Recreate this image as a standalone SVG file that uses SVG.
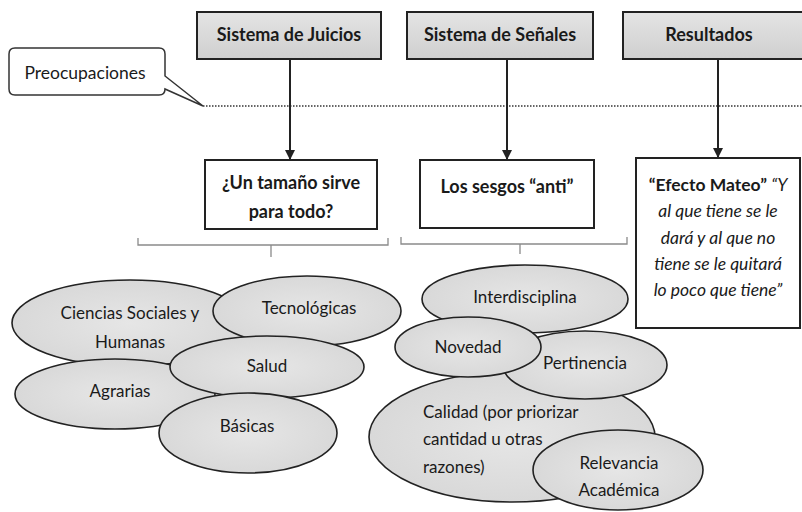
<svg xmlns="http://www.w3.org/2000/svg" width="802" height="512" viewBox="0 0 802 512">
<defs>
<linearGradient id="hdr" x1="0" y1="0" x2="0" y2="1">
<stop offset="0" stop-color="#e4e4e4"/>
<stop offset="1" stop-color="#cfcfcf"/>
</linearGradient>
<radialGradient id="ell" cx="0.5" cy="0.5" r="0.6">
<stop offset="0" stop-color="#e6e6e6"/>
<stop offset="1" stop-color="#d6d6d6"/>
</radialGradient>
<marker id="arr" viewBox="0 0 10 10" refX="9" refY="5" markerWidth="5" markerHeight="5" orient="auto" markerUnits="strokeWidth">
<path d="M0,0 L10,5 L0,10 Z" fill="#222"/>
</marker>
<style>
.hdr{fill:url(#hdr);stroke:#222;stroke-width:2}
.box{fill:#fff;stroke:#222;stroke-width:2}
.ell{fill:url(#ell);stroke:#222;stroke-width:1.6}
.t{font-family:Lato,"Liberation Sans",sans-serif;fill:#1a1a1a;text-anchor:middle}
.b{font-weight:bold;font-size:18px}
.r{font-size:17px}
.i{font-style:italic;font-size:17.5px}
.arrow{stroke:#222;stroke-width:2;fill:none;marker-end:url(#arr)}
.br{stroke:#8a8a8a;stroke-width:1.3;fill:none}
</style>
</defs>
<rect width="802" height="512" fill="#fff"/>

<g id="connectors">
<line x1="203" y1="106" x2="802" y2="106" stroke="#666" stroke-width="2.2" stroke-dasharray="1.5 1.5"/>
<line class="arrow" x1="290" y1="59" x2="290" y2="159"/>
<line class="arrow" x1="507" y1="59" x2="507" y2="159"/>
<line class="arrow" x1="718" y1="59" x2="718" y2="157"/>
<path class="br" d="M138,238 V245 H388 V238 M271,245 V257"/>
<path class="br" d="M401,237 V244 H627 V237 M520,244 V254"/>
</g>

<g id="preocupaciones">
<path d="M15,48 H159 Q165,48 165,54 V76 L203,106 L165,89 Q165,95 159,95 H15 Q9,95 9,89 V54 Q9,48 15,48 Z" fill="#fff" stroke="#333" stroke-width="1.5"/>
<text class="t r" x="85" y="79" style="font-size:17.5px">Preocupaciones</text>
</g>

<g id="sistema-juicios">
<rect class="hdr" x="197" y="12" width="184" height="47"/>
<text class="t b" x="289" y="41">Sistema de Juicios</text>
</g>
<g id="sistema-senales">
<rect class="hdr" x="407" y="12" width="186" height="47"/>
<text class="t b" x="500" y="41">Sistema de Señales</text>
</g>
<g id="resultados">
<rect class="hdr" x="623" y="12" width="182" height="47"/>
<text class="t b" x="709" y="41">Resultados</text>
</g>

<g id="un-tamano">
<rect class="box" x="205" y="160" width="172" height="69"/>
<text class="t b" x="291" y="189">¿Un tamaño sirve</text>
<text class="t b" x="291" y="218">para todo?</text>
</g>
<g id="sesgos">
<rect class="box" x="420" y="160" width="174" height="68"/>
<text class="t b" x="507" y="193">Los sesgos “anti”</text>
</g>
<g id="efecto-mateo">
<rect class="box" x="636" y="158" width="164" height="170"/>
<text class="t" x="718" y="191"><tspan class="b" style="font-size:17.5px">“Efecto Mateo”</tspan><tspan class="i"> “Y</tspan></text>
<text class="t i" x="718" y="217">al que tiene se le</text>
<text class="t i" x="718" y="244">dará y al que no</text>
<text class="t i" x="718" y="270">tiene se le quitará</text>
<text class="t i" x="718" y="296">lo poco que tiene”</text>
</g>

<g id="ciencias-sociales">
<ellipse class="ell" cx="130" cy="323" rx="118" ry="43"/>
<text class="t r" x="130" y="319">Ciencias Sociales y</text>
<text class="t r" x="130" y="348">Humanas</text>
</g>
<g id="tecnologicas">
<ellipse class="ell" cx="307" cy="311" rx="94" ry="35"/>
<text class="t r" x="309" y="314">Tecnológicas</text>
</g>
<g id="agrarias">
<ellipse class="ell" cx="115" cy="394" rx="100" ry="35"/>
<text class="t r" x="120" y="397">Agrarias</text>
</g>
<g id="salud">
<ellipse class="ell" cx="267" cy="367" rx="97" ry="31"/>
<text class="t r" x="267" y="372">Salud</text>
</g>
<g id="basicas">
<ellipse class="ell" cx="248" cy="433" rx="89" ry="40"/>
<text class="t r" x="247" y="432">Básicas</text>
</g>

<g id="interdisciplina">
<ellipse class="ell" cx="525" cy="299" rx="103" ry="34"/>
<text class="t r" x="525" y="303">Interdisciplina</text>
</g>
<g id="calidad">
<ellipse class="ell" cx="512" cy="437" rx="143" ry="65"/>
<text class="t r" x="423" y="418" style="text-anchor:start">Calidad (por priorizar</text>
<text class="t r" x="423" y="445" style="text-anchor:start">cantidad u otras</text>
<text class="t r" x="423" y="473" style="text-anchor:start">razones)</text>
</g>
<g id="pertinencia">
<ellipse class="ell" cx="585" cy="365" rx="82" ry="34"/>
<text class="t r" x="585" y="369">Pertinencia</text>
</g>
<g id="novedad">
<ellipse class="ell" cx="468" cy="347" rx="73" ry="30"/>
<text class="t r" x="468" y="353">Novedad</text>
</g>
<g id="relevancia">
<ellipse class="ell" cx="618" cy="470" rx="85" ry="40"/>
<text class="t r" x="619" y="469">Relevancia</text>
<text class="t r" x="619" y="496">Académica</text>
</g>
</svg>
